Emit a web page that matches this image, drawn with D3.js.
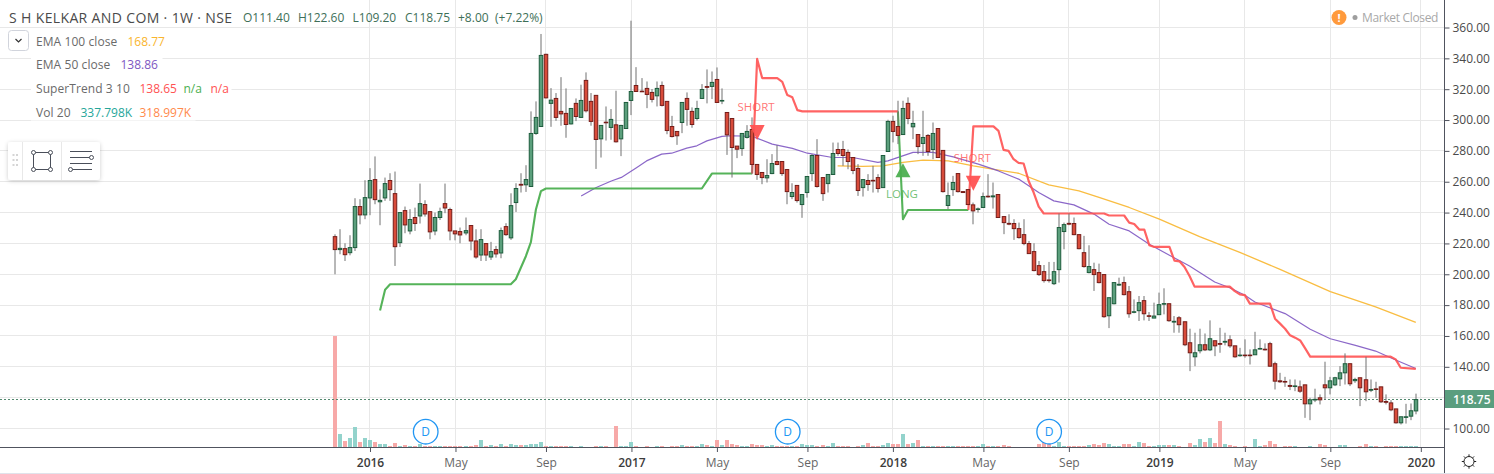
<!DOCTYPE html>
<html><head><meta charset="utf-8">
<script src="https://cdn.jsdelivr.net/npm/d3@7/dist/d3.min.js"></script>
<style>
html,body{margin:0;padding:0;background:#fff;overflow:hidden}
svg{display:block}
text{font-family:"Open Sans","Noto Sans",sans-serif}
</style></head><body>
<svg id="c" width="1494" height="474"></svg>
<script>
const opens=[224.4,216.0,216.6,214.0,217.3,243.9,238.5,249.5,261.4,247.0,
249.5,260.8,252.3,220.5,241.3,228.1,236.8,237.8,245.2,240.6,
228.1,236.8,245.8,242.0,228.1,227.7,226.8,231.6,221.6,212.5,
219.9,211.2,216.0,213.8,230.9,223.6,246.5,258.3,258.0,256.9,
291.3,295.8,342.6,310.8,314.0,305.6,304.3,297.5,310.8,301.7,
325.7,312.1,316.0,287.8,298.6,295.2,296.9,287.8,294.5,312.7,
322.4,318.7,320.5,317.9,315.7,322.4,312.1,295.8,292.6,298.4,
314.0,305.6,301.0,314.0,321.7,321.8,326.3,312.5,304.9,301.0,
283.1,281.5,288.7,293.9,271.2,266.0,262.5,265.3,273.1,273.1,
267.9,250.4,257.6,245.2,253.0,265.3,277.0,262.7,258.8,264.7,
280.9,280.9,279.0,275.7,268.6,256.2,260.8,260.9,262.7,256.2,
279.6,299.1,295.8,290.6,310.8,295.6,290.6,284.8,290.0,280.9,
294.5,280.3,244.6,254.9,265.3,253.6,254.9,245.0,242.0,243.3,
250.6,250.2,251.7,237.4,233.0,232.9,229.6,225.7,219.9,214.7,
205.6,201.7,196.3,193.9,203.0,227.7,233.0,232.9,225.7,214.0,
201.1,203.0,201.1,199.8,173.1,180.9,193.0,194.6,188.7,175.3,
176.4,182.9,173.1,171.6,173.8,180.6,180.9,169.0,171.8,169.2,
155.6,146.5,150.4,154.3,151.0,156.9,155.1,156.0,157.5,153.6,
147.2,147.6,147.6,147.8,151.5,151.4,155.0,142.0,130.9,130.5,
127.9,127.2,127.0,128.3,116.0,118.5,119.9,128.3,126.4,128.3,
132.2,136.1,142.0,131.0,132.9,131.6,124.8,125.7,127.0,117.5,
116.6,112.7,103.7,107.2,108.0,111.40];
const closes=[216.0,216.8,212.7,217.3,243.9,238.5,249.7,260.8,248.4,247.9,
258.8,254.9,217.9,240.0,232.0,235.5,232.9,245.8,239.1,227.5,
236.8,240.6,243.0,228.1,226.2,225.5,228.3,221.6,211.2,222.5,
212.5,214.7,213.2,228.3,225.7,244.5,255.6,257.8,261.4,291.3,
301.7,341.9,314.4,312.9,301.7,304.0,297.1,307.5,302.3,312.7,
306.0,299.1,287.4,296.5,298.4,300.4,285.9,296.5,311.4,318.5,
318.5,318.4,316.6,313.4,320.5,309.5,293.2,289.3,289.8,311.4,
306.9,297.1,307.5,319.8,321.2,324.4,311.4,312.7,290.4,282.2,
281.1,291.3,292.6,271.2,264.7,262.7,264.0,271.8,271.2,265.3,
253.6,253.0,247.8,251.7,263.4,277.0,256.9,252.3,264.7,278.3,
278.3,277.0,273.1,267.3,254.3,261.4,258.2,260.7,255.6,277.0,
299.1,292.6,290.0,307.5,301.0,297.8,282.8,288.7,279.6,291.3,
275.7,253.6,251.0,259.5,253.6,253.0,245.2,241.1,242.4,250.4,
250.2,250.8,236.8,233.5,232.5,229.6,223.8,219.9,213.4,202.4,
199.8,195.9,195.9,201.7,230.3,232.2,232.5,225.7,216.6,205.0,
205.0,199.8,194.6,172.5,184.8,194.6,193.5,186.8,174.4,175.7,
181.6,174.4,172.7,172.9,180.3,181.0,169.9,169.5,167.3,154.3,
149.1,149.1,154.3,151.0,158.2,153.6,154.6,156.5,153.6,146.5,
147.6,147.2,147.2,151.0,151.9,151.0,140.4,130.7,130.3,130.1,
127.3,127.6,124.2,116.0,118.6,118.9,118.6,126.4,130.9,132.9,
136.1,142.0,129.0,131.8,126.4,123.8,125.3,125.3,117.3,117.0,
112.1,103.7,107.6,107.6,111.5,118.75];
const highs=[225.9,229.2,220.1,225.3,249.3,248.7,261.0,268.8,276.4,255.1,
262.7,265.5,266.6,240.0,243.9,242.2,243.2,258.8,248.0,240.6,
240.0,243.2,258.8,243.2,228.1,230.3,236.8,231.6,229.2,229.2,
219.9,221.0,218.4,230.3,233.1,252.5,259.0,265.5,270.7,305.6,
312.1,355.8,343.0,320.7,317.5,327.8,320.5,307.5,314.0,322.9,
330.9,317.5,316.0,296.5,308.8,307.1,319.0,296.9,311.4,364.4,
334.3,327.2,325.0,320.1,325.0,325.0,312.1,302.7,292.6,311.4,
317.9,308.2,312.5,323.3,332.8,331.5,334.1,320.5,304.9,301.0,
283.1,291.3,296.7,301.7,271.2,266.0,274.6,277.9,283.7,273.1,
267.9,259.0,257.6,251.7,263.4,277.9,287.6,262.7,264.7,285.4,
285.4,286.5,280.9,275.7,271.4,261.4,264.9,270.3,264.9,277.0,
300.2,302.8,312.5,312.5,314.7,306.0,290.6,306.0,290.9,298.4,
294.5,280.3,259.5,263.8,265.3,253.6,254.9,246.5,243.3,253.0,
264.9,259.5,251.7,237.4,238.9,235.7,233.5,235.7,221.6,220.1,
208.6,206.0,208.0,208.0,239.4,233.5,239.4,236.8,225.7,224.9,
218.8,207.5,206.9,199.8,184.8,194.6,197.8,198.5,192.4,183.7,
185.9,185.9,175.5,181.6,188.1,190.9,180.9,172.9,172.9,169.2,
164.7,162.1,164.7,161.6,170.1,156.9,165.3,162.1,160.4,153.6,
152.3,157.8,151.3,162.7,157.8,155.2,156.2,143.3,136.1,133.5,
131.8,131.8,131.1,128.3,119.9,125.8,122.1,143.3,133.5,133.5,
140.4,148.7,142.0,132.9,132.9,146.5,131.8,130.3,127.0,122.1,
118.4,112.7,107.6,116.0,116.2,122.60];
const lows=[200.0,213.0,208.6,212.3,215.1,232.4,235.7,238.3,245.4,231.8,
247.6,247.6,205.4,217.7,226.6,225.9,228.1,232.9,237.4,222.7,
225.3,235.2,239.6,222.0,222.0,220.1,225.3,215.5,210.1,208.6,
208.6,209.3,210.8,210.4,224.9,222.3,240.4,253.0,253.4,256.9,
290.4,295.8,314.0,295.6,299.5,296.3,288.5,297.1,299.3,301.7,
304.9,296.3,268.3,275.7,286.7,287.2,285.4,276.6,294.5,303.2,
318.3,318.3,307.7,311.4,308.8,308.8,290.8,288.7,283.9,291.5,
296.3,295.0,299.7,314.0,310.8,313.6,311.4,310.3,277.4,262.7,
275.3,276.8,288.0,264.9,261.2,258.4,259.5,264.9,270.7,263.8,
245.4,248.7,246.5,236.6,249.7,260.5,256.2,247.6,253.0,264.7,
276.8,270.3,268.1,264.9,250.8,250.4,254.1,253.0,253.0,256.2,
279.6,285.5,284.4,290.6,297.3,287.6,277.9,276.8,276.8,274.6,
275.7,253.0,242.2,250.8,253.0,253.0,245.2,232.4,240.0,243.3,
249.7,242.6,236.8,226.0,231.8,222.3,223.1,218.8,213.4,201.9,
198.9,194.6,194.6,193.0,194.6,216.2,231.8,225.3,216.2,204.3,
200.6,189.2,194.1,171.8,165.1,180.5,192.4,186.3,171.8,174.7,
169.7,170.1,169.7,171.6,173.8,174.0,169.2,162.1,162.1,153.4,
137.2,140.4,148.7,150.2,150.2,146.9,149.1,153.9,152.3,145.9,
146.5,145.9,141.5,147.8,151.3,150.6,140.0,125.3,129.6,127.0,
124.9,124.2,123.1,106.9,105.4,117.1,115.6,118.8,122.1,127.5,
127.5,128.5,127.5,129.6,114.5,117.7,123.6,119.9,116.6,115.6,
111.2,103.2,102.6,103.2,105.4,109.20];
// weekly volume in thousands
const volumes=[33400,4000,1800,2800,6000,1600,2800,2200,1600,1000,
1000,400,1300,300,700,400,400,1000,200,400,
400,400,400,400,400,400,400,400,700,2200,
400,700,400,1000,400,1000,700,700,700,1000,
1000,1600,400,400,400,400,400,400,50,400,
50,50,400,400,400,50,6400,400,400,1600,
400,50,400,50,400,400,50,400,400,700,
400,400,400,1000,700,400,2200,700,2200,1000,
700,400,400,1000,700,700,400,700,400,400,
400,400,400,1000,700,700,400,700,400,1300,
400,400,400,50,400,700,1300,400,400,700,
1300,1000,1000,4000,1000,1300,2200,400,400,400,
400,400,400,400,400,400,400,400,400,1000,
400,400,400,700,400,50,50,50,50,50,
1000,1600,1300,400,1600,400,400,400,400,400,
700,1000,700,1300,1000,400,400,1000,1000,400,
1600,1300,400,400,700,700,700,700,400,50,
1300,700,2500,1600,2800,1300,7900,1000,700,400,
50,400,50,2500,400,700,1900,1000,50,400,
400,400,50,50,400,50,1000,700,50,50,
700,700,50,50,400,1000,400,400,50,400,
400,400,400,400,400,337.798];

// sparse indicator vertices: week index / price
const stGreen1Idx=[9,10,11,35,36,38,39,40,41,42,73,75,83];
const stGreen1Val=[176.5,190,193.5,193.5,196.8,211.7,220.8,242,253.9,255.6,255.6,265.3,265.3];
const stRed1Idx=[83,84,85,88,89,90,91,92,93,112];
const stRed1Val=[265.3,339.6,327.2,327.2,324.8,316.2,314.7,306.4,305.6,305.6];
const stGreen2Idx=[112,113,114,126];
const stGreen2Val=[305.6,235.7,241.7,241.7];
const stRed2Idx=[126,127,131,132,133,134,135,136,137,138,139,140,141,153,154,157,158,159,160,161,162,163,166,167,168,169,170,171,178,179,180,181,182,186,187,188,189,190,191,192,193,194,210,211,212,215];
const stRed2Val=[241.7,295.9,295.9,293,280.7,280,274.6,272.2,271.8,260.5,253,243.9,239.4,239.4,238.1,238.1,233.5,232.6,229,229,218.8,217.7,217.7,208.9,208.4,204.7,198.9,192,192,189.1,187,186.5,181,181,171.2,168,164.7,160.4,158.9,157.1,151.9,146.6,146.6,144.8,139.4,138.65];
const ema50Idx=[49,52,55,57,60,62,65,67,70,72,74,77,79,83,87,91,94,99,103,108,110,115,119,123,128,132,136,140,143,147,151,154,158,162,166,170,175,178,181,183,189,194,198,203,207,211,215];
const ema50Val=[250.8,256.3,260.5,262.8,269.1,273.5,277.9,278.5,281.8,283.3,286.5,289.4,289.8,289.4,284.4,281.6,278.5,275.7,275.7,272.5,273.5,279,279,276.1,271.4,267,261.7,253,247.6,245,239,232.4,228.1,219.5,212.3,205.4,195,191.3,186.4,182,174.5,164.3,158.2,153.9,150.2,144.4,138.86];
const ema100Idx=[100,105,109,113,117,122,127,132,136,142,148,152,158,164,172,180,188,198,207,215];
const ema100Val=[270.3,269.9,270.3,272.5,274,273.5,270.3,267.5,265.5,258,254.1,249.8,243.3,235.7,224.4,214.2,203.2,188.7,178.8,168.77];

const signalIdx=[84,113,127];
const signalPrice=[296.8,272,263.9];
const signalLabel=["SHORT","LONG","SHORT"];
const dividendIdx=[18,90,142];
const dividendLabel="D";

const priceTicks=[100,120,140,160,180,200,220,240,260,280,300,320,340,360];
const timeTickIdx=[7,24,42,59,76,94,111,129,146,164,181,198,216];
const timeTickLabels=["2016","May","Sep","2017","May","Sep","2018","May","Sep","2019","May","Sep","2020"];
const lastPrice=118.75;

const legendRows=[
 {y:41,x:36,t:"EMA 100 close",vals:[["168.77","#f9b52e",127.5]]},
 {y:64.5,x:36,t:"EMA 50 close",vals:[["138.86","#7e57c2",120.5]]},
 {y:88.5,x:36,t:"SuperTrend 3 10",vals:[["138.65","#ff5252",139.5],["n/a","#4caf50",183.5],["n/a","#ff5252",210.5]]},
 {y:112.5,x:36,t:"Vol 20",vals:[["337.798K","#26a69a",80.5],["318.997K","#ff8a4c",139.5]]}
];

const W=1494,H=474,axisX=1444.5,axisY=447;
const svg=d3.select("#c");
const x=d3.scaleLinear().domain([0,215]).range([334.8,1415.8]);
const y=d3.scaleLinear().domain([100,360]).range([428.5,27.5]);
const vy=d3.scaleLinear().domain([0,33400]).range([axisY,336]);
const snap=v=>Math.round(v-.5)+.5;
const GRID="#e8e8e8",AX="#50535e",TXT="#4a4a4a";

// grid
const g=svg.append("g");
g.selectAll(".h").data(priceTicks).join("line").attr("x1",0).attr("x2",axisX)
 .attr("y1",d=>snap(y(d))).attr("y2",d=>snap(y(d))).attr("stroke",GRID);
g.selectAll(".v").data(timeTickIdx).join("line").attr("y1",0).attr("y2",axisY)
 .attr("x1",d=>snap(x(d))).attr("x2",d=>snap(x(d))).attr("stroke",GRID);

// volume
const idx=d3.range(opens.length);
svg.append("g").attr("shape-rendering","crispEdges").selectAll("rect").data(idx).join("rect")
 .attr("x",i=>Math.round(x(i))-2).attr("width",4)
 .attr("y",i=>Math.round(vy(volumes[i]))).attr("height",i=>axisY-Math.round(vy(volumes[i])))
 .attr("fill",i=>closes[i]>=opens[i]?"#93d3cc":"#f7a9a8");

// last price line
svg.append("line").attr("x1",0).attr("x2",axisX).attr("y1",snap(y(lastPrice))).attr("y2",snap(y(lastPrice)))
 .attr("stroke","#53896f").attr("stroke-dasharray","2 2");

// indicators
const ln=(I,V,col,w,op)=>svg.append("path")
 .datum(I.map((d,k)=>[d,V[k]]))
 .attr("d",d3.line().x(d=>x(d[0])).y(d=>y(d[1])))
 .attr("fill","none").attr("stroke",col).attr("stroke-width",w).attr("stroke-opacity",op).attr("stroke-linejoin","round");
ln(ema100Idx,ema100Val,"#f9bd42",1.3,1);
ln(ema50Idx,ema50Val,"#7e57c2",1.2,.9);
ln(stGreen1Idx,stGreen1Val,"#4caf50",2.1,.95);
ln(stGreen2Idx,stGreen2Val,"#4caf50",2.1,.95);
ln(stRed1Idx,stRed1Val,"#ff5252",2.2,.9);
ln(stRed2Idx,stRed2Val,"#ff5252",2.2,.9);

// candles
const cg=svg.append("g");
cg.selectAll("line").data(idx).join("line")
 .attr("x1",i=>Math.round(x(i))).attr("x2",i=>Math.round(x(i)))
 .attr("y1",i=>y(highs[i])).attr("y2",i=>y(lows[i])).attr("stroke","#707070").attr("stroke-width",1);
cg.selectAll("rect").data(idx).join("rect")
 .attr("x",i=>Math.round(x(i))-1.75).attr("width",3.5)
 .attr("y",i=>y(Math.max(opens[i],closes[i])))
 .attr("height",i=>Math.max(.6,Math.abs(y(opens[i])-y(closes[i]))))
 .attr("fill",i=>closes[i]>=opens[i]?"#5b9f7c":"#d84b3a")
 .attr("stroke",i=>closes[i]>=opens[i]?"#1d5c3c":"#761c18").attr("stroke-width",1);

// signals
signalIdx.forEach((d,k)=>{
 const long=signalLabel[k]==="LONG",cx=x(d),py=y(signalPrice[k]),col=long?"#4caf50":"#ff5252";
 const tri=long?[[cx-7.5,py+14],[cx+7.5,py+14],[cx,py]]:[[cx-7.5,py],[cx+7.5,py],[cx,py+15]];
 svg.append("polygon").attr("points",tri.join(" ")).attr("fill",col).attr("fill-opacity",.95);
 svg.append("text").attr("x",cx-1).attr("y",long?py+30:py-18.5)
  .attr("text-anchor","middle").attr("dominant-baseline","central").attr("font-size",11.5)
  .attr("fill",col).attr("fill-opacity",.8).text(signalLabel[k]);
});

// dividends
dividendIdx.forEach(d=>{
 const cx=x(d)+.4,cy=431.7;
 svg.append("circle").attr("cx",cx).attr("cy",cy).attr("r",12.3).attr("fill","#fff").attr("stroke","#2196f3").attr("stroke-width",1.3);
 svg.append("text").attr("x",cx).attr("y",cy).attr("text-anchor","middle").attr("dominant-baseline","central")
  .attr("font-size",12).attr("fill","#2196f3").text(dividendLabel);
});

// axes
svg.append("rect").attr("x",axisX).attr("y",0).attr("width",W-axisX).attr("height",H).attr("fill","#fff");
svg.append("rect").attr("x",0).attr("y",axisY).attr("width",axisX).attr("height",H-axisY).attr("fill","#fff");
const ya=svg.append("g").attr("transform",`translate(${axisX},0)`)
 .call(d3.axisRight(y).tickValues(priceTicks).tickSize(5).tickPadding(3).tickFormat(d3.format(".2f")));
ya.select(".domain").remove();
ya.selectAll("line").attr("stroke",AX);
ya.selectAll("text").attr("font-size",12).attr("fill",TXT).style("font-family",'"Open Sans",sans-serif');
const xa=svg.append("g").attr("transform",`translate(0,${axisY})`)
 .call(d3.axisBottom(x).tickValues(timeTickIdx).tickSize(5).tickPadding(6).tickFormat((d,i)=>timeTickLabels[i]));
xa.select(".domain").remove();
xa.selectAll("line").attr("stroke",AX);
xa.selectAll("text").attr("font-size",12)
 .attr("fill",(d,i)=>/^\d/.test(timeTickLabels[i])?"#3c3c3c":"#666").attr("font-weight",(d,i)=>/^\d/.test(timeTickLabels[i])?600:400)
 .style("font-family",'"Open Sans",sans-serif');
svg.append("line").attr("x1",0).attr("x2",axisX).attr("y1",axisY+.5).attr("y2",axisY+.5).attr("stroke",AX);
svg.append("line").attr("x1",axisX).attr("x2",axisX).attr("y1",0).attr("y2",473).attr("stroke",AX);
svg.append("line").attr("x1",0).attr("x2",W).attr("y1",473.5).attr("y2",473.5).attr("stroke","#e0e3eb");

// last price tag
svg.append("rect").attr("x",axisX+.5).attr("y",390).attr("width",W-axisX).attr("height",18).attr("fill","#5a9e7f");
svg.append("text").attr("x",1453).attr("y",399).attr("dominant-baseline","central").attr("font-size",12).attr("font-weight",600)
 .attr("fill","#fff").text(lastPrice.toFixed(2));

// header
const T=(t,xx,yy,col,fs=12,extra={})=>{const e=svg.append("text").attr("x",xx).attr("y",yy).attr("dominant-baseline","central")
 .attr("font-size",fs).attr("fill",col).text(t);Object.entries(extra).forEach(([k,v])=>e.attr(k,v));return e;};
T("S H KELKAR AND COM · 1W · NSE",9,17,TXT,14,{"letter-spacing":.36});
[["O111.40",243],["H122.60",298],["L109.20",352.5],["C118.75",405],["+8.00",458],["(+7.22%)",495]]
 .forEach(([t,xx])=>T(t,xx,17.5,"#3e6f58",12));

// legend
legendRows.forEach(r=>{
 const end=r.vals[r.vals.length-1][2]+(r.vals[r.vals.length-1][0].length*7);
 svg.append("rect").attr("x",31).attr("y",r.y-8).attr("width",end-31).attr("height",16).attr("fill","#fff");
 T(r.t,r.x,r.y,"#6a6a6a",12,{"letter-spacing":.08});
 r.vals.forEach(v=>T(v[0],v[2],r.y,v[1],12));
});
svg.append("rect").attr("x",8.5).attr("y",30.5).attr("width",20).attr("height",20).attr("rx",3).attr("fill","#fff").attr("stroke","#d1d4dc");
svg.append("path").attr("d","M15.5 39 L18.5 42 L21.5 39").attr("fill","none").attr("stroke","#333").attr("stroke-width",1.2);

// drawing toolbar
const defs=svg.append("defs");
defs.append("filter").attr("id","sh").attr("x","-10%").attr("y","-20%").attr("width","120%").attr("height","150%")
 .append("feDropShadow").attr("dx",0).attr("dy",1).attr("stdDeviation",2).attr("flood-color","#000").attr("flood-opacity",.2);
svg.append("rect").attr("x",8).attr("y",142).attr("width",92).attr("height",38).attr("rx",3).attr("fill","#fff").attr("filter","url(#sh)");
[22.5,61.5].forEach(v=>svg.append("line").attr("x1",v).attr("x2",v).attr("y1",142).attr("y2",180).attr("stroke","#e8e8e8"));
[[13,155],[16.5,155],[13,160],[16.5,160],[13,165],[16.5,165]].forEach(p=>svg.append("rect").attr("x",p[0]-.5).attr("y",p[1]-1).attr("width",2).attr("height",2).attr("fill","#d5d5d5"));
const ic="#4a4f5a";
svg.append("rect").attr("x",33.5).attr("y",152.5).attr("width",17).attr("height",17).attr("fill","none").attr("stroke",ic);
[[33.5,152.5],[50.5,152.5],[33.5,169.5],[50.5,169.5]].forEach(p=>svg.append("circle").attr("cx",p[0]).attr("cy",p[1]).attr("r",2).attr("fill","#fff").attr("stroke",ic));
[[70,92,151.5],[70,90,157.5],[70,92,163.5],[72,92,169.5]].forEach(l=>svg.append("line").attr("x1",l[0]).attr("x2",l[1]).attr("y1",l[2]).attr("y2",l[2]).attr("stroke",ic));
svg.append("circle").attr("cx",91.5).attr("cy",157.5).attr("r",2).attr("fill","#fff").attr("stroke",ic);
svg.append("circle").attr("cx",70.5).attr("cy",169.5).attr("r",2).attr("fill","#fff").attr("stroke",ic);

// market status
svg.append("circle").attr("cx",1339).attr("cy",17.5).attr("r",7.5).attr("fill","#ff9a3c");
T("!",1339,17.5,"#fff",11,{"text-anchor":"middle","font-weight":700});
svg.append("circle").attr("cx",1355).attr("cy",17.5).attr("r",2.5).attr("fill","#9e9e9e");
T("Market Closed",1362,17.5,"#a8a8a8",12,{"letter-spacing":-.33});

// settings gear
const gx=1469,gy=461.5;
svg.append("circle").attr("cx",gx).attr("cy",gy).attr("r",5).attr("fill","none").attr("stroke","#222").attr("stroke-width",1);
d3.range(8).forEach(k=>{const a=k*Math.PI/4;svg.append("line")
 .attr("x1",gx+5*Math.cos(a)).attr("y1",gy+5*Math.sin(a)).attr("x2",gx+7.2*Math.cos(a)).attr("y2",gy+7.2*Math.sin(a)).attr("stroke","#222");});
</script>
</body></html>
